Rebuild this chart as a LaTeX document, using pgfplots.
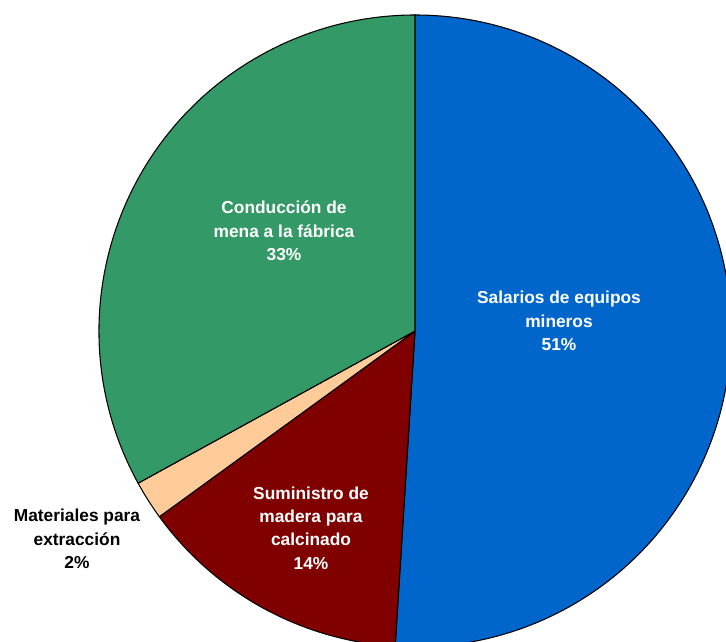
\documentclass[border=0pt]{standalone}
\usepackage{fontspec}
\setmainfont{Liberation Sans}
\usepackage{pgfplots}
\usepackage{pgfplotstable}
\pgfplotsset{compat=1.18}

\definecolor{cSal}{HTML}{0066CC}
\definecolor{cSum}{HTML}{800000}
\definecolor{cMat}{HTML}{FFCC99}
\definecolor{cCon}{HTML}{339966}

\pgfplotstableread{
share
51
14
2
33
}\piedata

\begin{document}
\begin{tikzpicture}
\useasboundingbox (0,0) rectangle (544.5pt,481.5pt);
% cumulative angles, clockwise from the top
\pgfplotstablegetelem{0}{share}\of\piedata \let\vA\pgfplotsretval
\pgfplotstablegetelem{1}{share}\of\piedata \let\vB\pgfplotsretval
\pgfplotstablegetelem{2}{share}\of\piedata \let\vC\pgfplotsretval
\pgfplotstablegetelem{3}{share}\of\piedata \let\vD\pgfplotsretval
\pgfmathsetmacro\aA{90}
\pgfmathsetmacro\aB{\aA-3.6*\vA}
\pgfmathsetmacro\aC{\aB-3.6*\vB}
\pgfmathsetmacro\aD{\aC-3.6*\vC}
\pgfmathsetmacro\aE{\aD-3.6*\vD}
\def\R{237pt}
\begin{axis}[
    x=0.75pt, y=0.75pt,
    xmin=0, xmax=726, ymin=0, ymax=642,
    at={(0,0)}, anchor=origin,
    hide axis, clip=true,
]
\filldraw[fill=cSal, draw=black, line width=0.8pt] (axis cs:415,311) -- ++(\aA:\R) arc[start angle=\aA, end angle=\aB, radius=\R] -- cycle;
\filldraw[fill=cSum, draw=black, line width=0.8pt] (axis cs:415,311) -- ++(\aB:\R) arc[start angle=\aB, end angle=\aC, radius=\R] -- cycle;
\filldraw[fill=cMat, draw=black, line width=0.8pt] (axis cs:415,311) -- ++(\aC:\R) arc[start angle=\aC, end angle=\aD, radius=\R] -- cycle;
\filldraw[fill=cCon, draw=black, line width=0.8pt] (axis cs:415,311) -- ++(\aD:\R) arc[start angle=\aD, end angle=\aE, radius=\R] -- cycle;

\node[white, align=center, font=\fontsize{13}{17.6}\selectfont\bfseries] at (axis cs:559,321) {Salarios de equipos\\mineros\\51\%};
\node[white, align=center, font=\fontsize{13}{17.6}\selectfont\bfseries] at (axis cs:284,411) {Conducción de\\mena a la fábrica\\33\%};
\node[white, align=center, font=\fontsize{13}{17.6}\selectfont\bfseries] at (axis cs:311,114) {Suministro de\\madera para\\calcinado\\14\%};
\node[black, align=center, font=\fontsize{13}{17.6}\selectfont\bfseries] at (axis cs:77,103) {Materiales para\\extracción\\2\%};
\end{axis}
\end{tikzpicture}
\end{document}
